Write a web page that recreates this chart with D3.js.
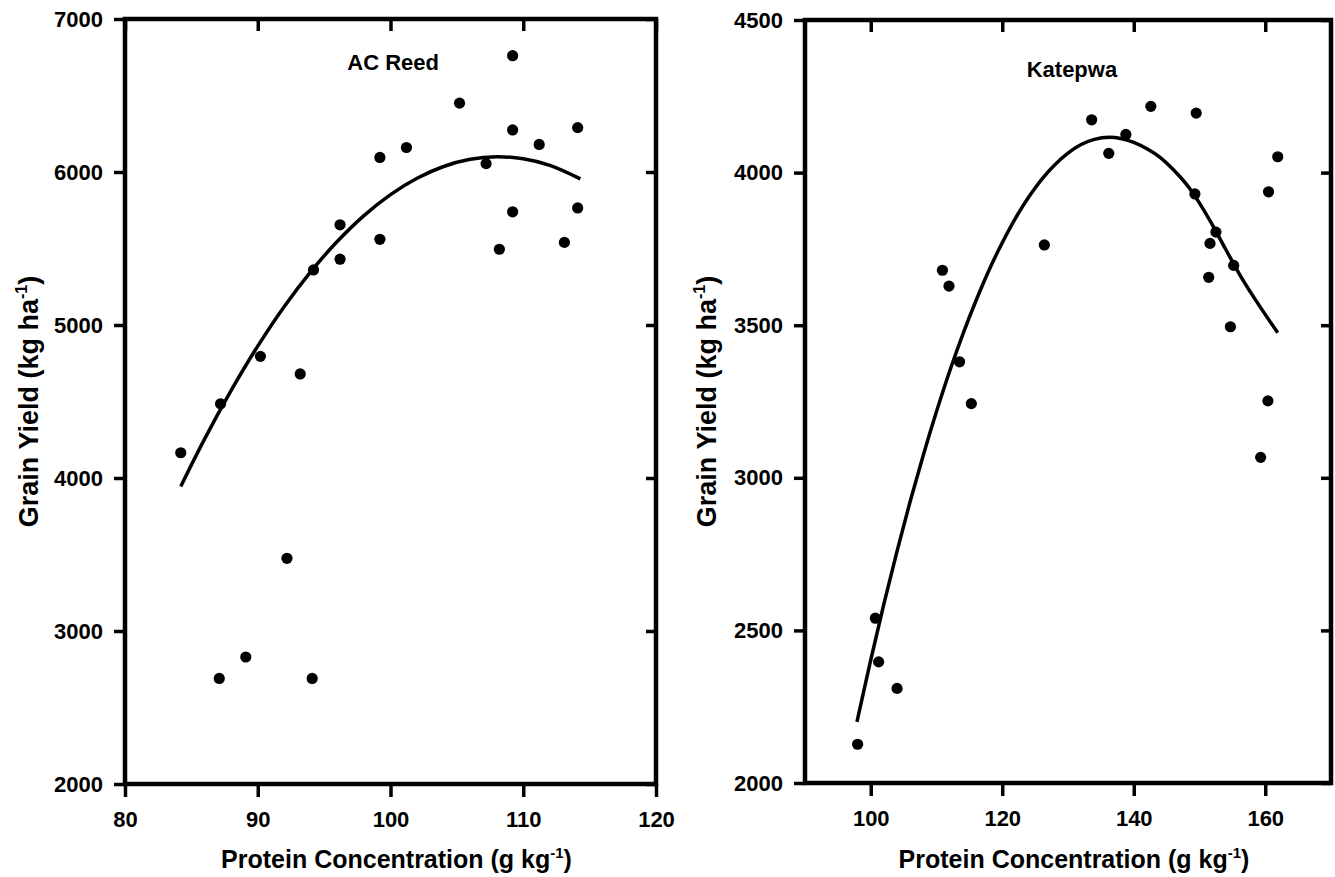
<!DOCTYPE html>
<html>
<head>
<meta charset="utf-8">
<script src="https://cdn.jsdelivr.net/npm/d3@7"></script>
<style>
  html, body { margin: 0; padding: 0; background: #fff; }
  svg { display: block; }
  text { font-family: "Liberation Sans", Arial, Helvetica, sans-serif; font-weight: bold; fill: #000; }
</style>
</head>
<body>
<svg id="chart" width="1335" height="877"></svg>
<script>
// ---------- Data: AC Reed ----------
const acProtein = [109.2, 105.2, 109.2, 114.1, 111.2, 101.2, 99.2, 107.2, 109.2, 114.1, 96.2, 99.2,
                   113.1, 108.2, 96.2, 94.2, 90.2, 93.2, 87.2, 84.2, 92.2, 89.1, 87.1, 94.1];
const acYield   = [6760, 6450, 6275, 6290, 6180, 6160, 6095, 6055, 5740, 5765, 5655, 5560,
                   5540, 5495, 5430, 5360, 4795, 4680, 4485, 4165, 3475, 2830, 2690, 2690];
// fitted curve
const acCurveX = [84.2, 86, 88, 90, 92, 94, 96, 98, 100, 102, 104, 106, 108, 110, 112, 114.3];
const acCurveY = [3945, 4256, 4573, 4862, 5121, 5349, 5547, 5715, 5852, 5959, 6036, 6083, 6100, 6086, 6043, 5955];

// ---------- Data: Katepwa ----------
const katProtein = [133.6, 142.6, 149.5, 138.8, 136.2, 161.9, 149.3, 160.5, 126.4, 152.5, 151.6, 110.9,
                    111.9, 155.2, 151.4, 154.7, 113.5, 115.3, 160.4, 159.3, 100.7, 101.2, 104.0, 98.0];
const katYield   = [4173, 4217, 4195, 4125, 4063, 4052, 3930, 3937, 3763, 3805, 3768, 3680,
                    3628, 3696, 3657, 3495, 3380, 3243, 3252, 3067, 2540, 2397, 2310, 2127];
const katCurveX = [97.9, 100, 102, 104, 106, 108, 110, 112, 114, 116, 118, 120, 122, 124, 126, 128, 130,
                   132, 134, 136.3, 138, 140, 142, 144, 146, 148, 150, 152, 154, 156, 158, 160, 161.9];
const katCurveY = [2200, 2403, 2587, 2760, 2923, 3075, 3217, 3349, 3470, 3580, 3681, 3770, 3850, 3919, 3978,
                   4026, 4064, 4092, 4109, 4116, 4112, 4099, 4078, 4050, 4010, 3962, 3900, 3827, 3748,
                   3670, 3600, 3535, 3475];

// ---------- Axis ticks ----------
const acXTicks = [80, 90, 100, 110, 120];
const acYTicks = [2000, 3000, 4000, 5000, 6000, 7000];
const katXTicks = [100, 120, 140, 160];
const katYTicks = [2000, 2500, 3000, 3500, 4000, 4500];

const svg = d3.select("#chart");

function drawPanel(cfg) {
  const g = svg.append("g");
  const x = d3.scaleLinear().domain(cfg.xDomain).range([cfg.x0, cfg.x1]);
  const y = d3.scaleLinear().domain(cfg.yDomain).range([cfg.y1, cfg.y0]);

  const styleAxis = sel => {
    sel.select(".domain").remove();
    sel.selectAll(".tick line").attr("stroke", "#000").attr("stroke-width", 3.5);
    sel.selectAll(".tick text").attr("font-size", 22).attr("fill", "#000")
       .style("font-family", '"Liberation Sans", Arial, sans-serif').style("font-weight", "bold");
  };

  // left axis (outward ticks with labels)
  g.append("g").attr("transform", `translate(${cfg.x0},0)`)
    .call(d3.axisLeft(y).tickValues(cfg.yTicks).tickSize(11).tickPadding(11).tickFormat(d3.format("d")))
    .call(styleAxis);
  // right axis (inward ticks)
  g.append("g").attr("transform", `translate(${cfg.x1},0)`)
    .call(d3.axisRight(y).tickValues(cfg.yTicks).tickSize(-10).tickFormat(""))
    .call(styleAxis);
  // bottom axis (outward ticks with labels)
  g.append("g").attr("transform", `translate(0,${cfg.y1})`)
    .call(d3.axisBottom(x).tickValues(cfg.xTicks).tickSize(13).tickPadding(14).tickFormat(d3.format("d")))
    .call(styleAxis);
  // top axis (inward ticks)
  g.append("g").attr("transform", `translate(0,${cfg.y0})`)
    .call(d3.axisTop(x).tickValues(cfg.xTicks).tickSize(-12).tickFormat(""))
    .call(styleAxis);

  // frame
  g.append("rect")
    .attr("x", cfg.x0).attr("y", cfg.y0)
    .attr("width", cfg.x1 - cfg.x0).attr("height", cfg.y1 - cfg.y0)
    .attr("fill", "none").attr("stroke", "#000").attr("stroke-width", 4.5);

  // fitted curve
  const line = d3.line().x(d => x(d[0])).y(d => y(d[1])).curve(d3.curveCatmullRom);
  g.append("path")
    .datum(cfg.curveX.map((v, i) => [v, cfg.curveY[i]]))
    .attr("d", line).attr("fill", "none").attr("stroke", "#000").attr("stroke-width", 3.5);

  // points
  g.selectAll("circle.pt").data(cfg.px.map((v, i) => [v, cfg.py[i]]))
    .enter().append("circle").attr("class", "pt")
    .attr("cx", d => x(d[0])).attr("cy", d => y(d[1])).attr("r", 5.6).attr("fill", "#000");

  // panel label
  g.append("text").attr("x", x(cfg.labelX)).attr("y", cfg.labelY)
    .attr("text-anchor", "middle").attr("font-size", 22).text(cfg.label);

  // x title
  const xt = g.append("text").attr("x", (cfg.x0 + cfg.x1) / 2 + 6).attr("y", 868)
    .attr("text-anchor", "middle").attr("font-size", 25);
  xt.append("tspan").text("Protein Concentration (g kg");
  xt.append("tspan").attr("font-size", 15).attr("dy", -10).text("-1");
  xt.append("tspan").attr("dy", 10).text(")");

  // y title
  const cy = (cfg.y0 + cfg.y1) / 2;
  const yt = g.append("text")
    .attr("transform", `translate(${cfg.yTitleX},${cy}) rotate(-90)`)
    .attr("text-anchor", "middle").attr("font-size", 27);
  yt.append("tspan").text("Grain Yield (kg ha");
  yt.append("tspan").attr("font-size", 16).attr("dy", -11).text("-1");
  yt.append("tspan").attr("dy", 11).text(")");
}

drawPanel({
  x0: 125, x1: 656, y0: 19, y1: 784,
  xDomain: [80, 120], yDomain: [2000, 7000],
  xTicks: acXTicks, yTicks: acYTicks,
  px: acProtein, py: acYield, curveX: acCurveX, curveY: acCurveY,
  label: "AC Reed", labelX: 100.2, labelY: 70, yTitleX: 38
});

drawPanel({
  x0: 805, x1: 1331, y0: 20, y1: 783,
  xDomain: [90, 170], yDomain: [2000, 4500],
  xTicks: katXTicks, yTicks: katYTicks,
  px: katProtein, py: katYield, curveX: katCurveX, curveY: katCurveY,
  label: "Katepwa", labelX: 130.6, labelY: 77, yTitleX: 716
});
</script>
</body>
</html>
